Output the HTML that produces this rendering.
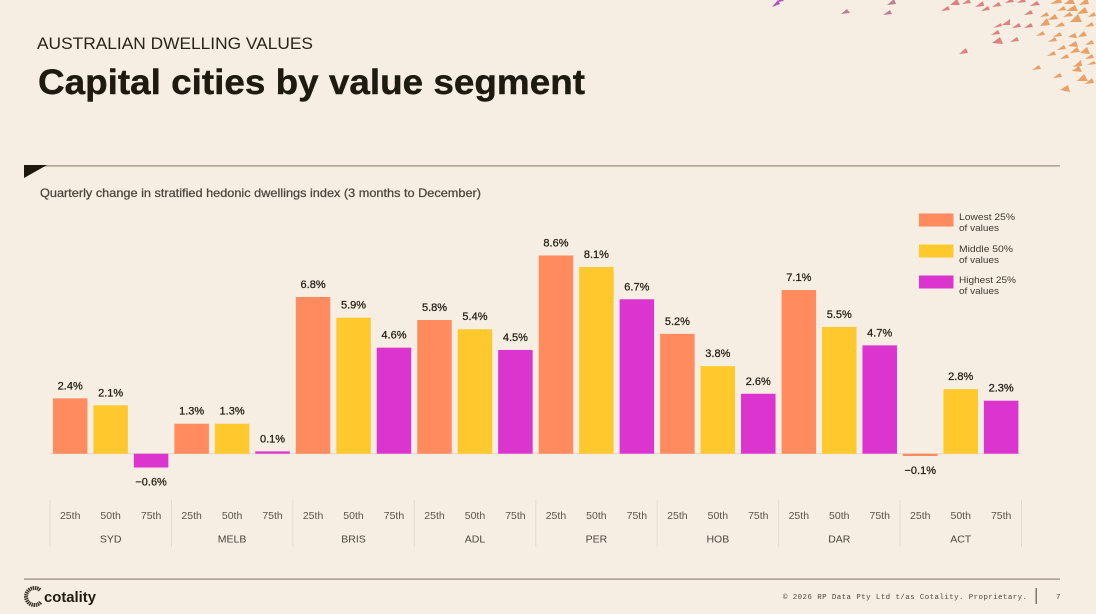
<!DOCTYPE html>
<html lang="en">
<head>
<meta charset="utf-8">
<title>Capital cities by value segment</title>
<style>
html,body{margin:0;padding:0;background:#f6eee3;width:1096px;height:614px;overflow:hidden}
svg{display:block;filter:blur(.3px)}
text{font-family:"Liberation Sans",sans-serif}
</style>
</head>
<body>
<svg id="slide" width="1096" height="614" viewBox="0 0 1096 614" xmlns="http://www.w3.org/2000/svg">
  <rect width="1096" height="614" fill="#f6eee3"/>

  <g>
    <path fill="#a952c0" d="M772 7l8-3-2-4zM777 2l7-1-3-3z"/>
    <path fill="#bd7f96" d="M841 14l9-1-3-4zM887 5l9-1-2-5zM883 15l9-1-2-4z"/>
    <path fill="#dd8080" d="M950 5l10 0-3-6zM962 4l9-1-2-4zM941 11l9-1-2-4zM975 7l9-1-1-5zM981 11l9-1-2-4zM992 7l9-1-2-4zM959 54l9-1-2-5zM1002 25l8 0 0-6zM993 28l9-2-1-3zM991 35l9-1-2-4zM992 43l11 1-3-7zM1010 42l9-1-2-4zM1012 28l9-1-2-4zM1024 28l9-1-2-4zM1024 15l9-1-2-4zM1030 6l10-1-3-4zM1005 3l9-1-2-4zM1017 3l9-1-2-4z"/>
    <path fill="#e8a066" d="M1040 26l10-1-3-7zM1040 17l9-1-2-4zM1048 20l10-1-3-5zM1055 27l10-1-3-4zM1036 36l9-1-2-4zM1053 37l9-1-2-4zM1048 42l9-1-2-4zM1068 37l9 1-2-5zM1078 37l9-1-3-5zM1085 45l9-1-2-4zM1068 46l10 1-2-6zM1057 50l9-1-2-4zM1047 56l9-1-2-4zM1060 59l9-1-2-4zM1070 53l10-1-3-5zM1080 53l10 1-3-7zM1085 59l9-1-2-4zM1032 70l9-1-2-4zM1053 78l9-1-2-4zM1073 67l9-1-1-6zM1072 71l10 1-3-6zM1087 65l9-1-2-3zM1077 81l11 0-4-7zM1085 84l9-1-2-5zM1060 90l10 2-2-7zM1050 4l12-1-2-5zM1064 4l11 0-3-6zM1079 5l10-1-2-6zM1057 11l9-1-2-4zM1066 11l12 0-3-6zM1077 14l11-1-3-6zM1070 22l12 0-4-8zM1085 27l9-1-2-4zM1088 17l8-1-2-4zM1063 17l10-1-3-4z"/>
  </g>

  <text x="37" y="49" font-size="16.5" fill="#2b2419" textLength="276" lengthAdjust="spacingAndGlyphs">AUSTRALIAN DWELLING VALUES</text>
  <text x="38" y="94" font-size="35" font-weight="700" fill="#1f1a10" stroke="#1f1a10" stroke-width=".4" textLength="547" lengthAdjust="spacingAndGlyphs">Capital cities by value segment</text>

  <rect x="24" y="165.2" width="1036" height="1.4" fill="#a59a8b"/>
  <polygon points="24,165 47,165 24,178" fill="#1d170c"/>

  <text x="40" y="197" font-size="12" fill="#4b453c" stroke="#4b453c" stroke-width=".25" textLength="441" lengthAdjust="spacingAndGlyphs">Quarterly change in stratified hedonic dwellings index (3 months to December)</text>

  <g id="chart"></g>

  <g>
    <g>
      <rect x="919" y="213.5" width="34.5" height="13" fill="#ff8b5f"/>
      <text x="959" y="220" font-size="9.6" fill="#3f3931" textLength="56" lengthAdjust="spacingAndGlyphs">Lowest 25%</text>
      <text x="959" y="231" font-size="9.6" fill="#3f3931" textLength="40" lengthAdjust="spacingAndGlyphs">of values</text>
    </g>
    <g>
      <rect x="919" y="244.5" width="34.5" height="13" fill="#ffc92e"/>
      <text x="959" y="252" font-size="9.6" fill="#3f3931" textLength="54" lengthAdjust="spacingAndGlyphs">Middle 50%</text>
      <text x="959" y="263" font-size="9.6" fill="#3f3931" textLength="40" lengthAdjust="spacingAndGlyphs">of values</text>
    </g>
    <g>
      <rect x="919" y="275.5" width="34.5" height="13" fill="#dc35cf"/>
      <text x="959" y="283" font-size="9.6" fill="#3f3931" textLength="57" lengthAdjust="spacingAndGlyphs">Highest 25%</text>
      <text x="959" y="294" font-size="9.6" fill="#3f3931" textLength="40" lengthAdjust="spacingAndGlyphs">of values</text>
    </g>
  </g>

  <rect x="24" y="578.4" width="1036" height="1.5" fill="#a59a8b"/>
  <g>
    <path d="M40 590a8.5 8.5 0 1 0 1 12" fill="none" stroke="#3a3328" stroke-width="4" stroke-dasharray="1.4 .7"/>
    <text x="44" y="602" font-size="14.5" font-weight="700" fill="#211b11" textLength="52" lengthAdjust="spacingAndGlyphs">cotality</text>
  </g>
  <text x="783" y="599" font-size="7.4" fill="#4b453c" style='font-family:"Liberation Mono",monospace' textLength="244">© 2026 RP Data Pty Ltd t/as Cotality. Proprietary.</text>
  <rect x="1035.5" y="588" width="1.5" height="16" fill="#7d766b"/>
  <text x="1056" y="599" font-size="7.5" fill="#4b453c" style='font-family:"Liberation Mono",monospace'>7</text>
</svg>

<script>
const cities = ['SYD', 'MELB', 'BRIS', 'ADL', 'PER', 'HOB', 'DAR', 'ACT'];
const segments = ['25th', '50th', '75th'];
const lowest25 = [2.4, 1.3, 6.8, 5.8, 8.6, 5.2, 7.1, -0.1];
const middle50 = [2.1, 1.3, 5.9, 5.4, 8.1, 3.8, 5.5, 2.8];
const highest25 = [-0.6, 0.1, 4.6, 4.5, 6.7, 2.6, 4.7, 2.3];

const NS = 'http://www.w3.org/2000/svg';
const chart = document.getElementById('chart');
const seriesList = [lowest25, middle50, highest25];
const seriesColors = ['#ff8b5f', '#ffc92e', '#dc35cf'];

const plotLeft = 50;
const plotRight = 1021.5;
const zeroY = 453.7;
const pxPerPercent = 23.05;
const barWidth = 34.5;
const groupWidth = (plotRight - plotLeft) / cities.length;
const slotWidth = 40.45;

function yScale(v) { return zeroY - v * pxPerPercent; }
function xCenter(g, s) { return plotLeft + g * groupWidth + 20.2 + s * slotWidth; }

function make(tag, props, text) {
  const el = document.createElementNS(NS, tag);
  Object.keys(props).forEach(function (k) { el.setAttribute(k, props[k]); });
  if (text !== undefined) el.textContent = text;
  chart.appendChild(el);
  return el;
}

const baseline = make('line', { x1: plotLeft, x2: plotRight, y1: zeroY, y2: zeroY, stroke: '#e2d9cb', 'stroke-width': 1 });



for (let g = 0; g <= cities.length; g++) {
  const sepX = plotLeft + g * groupWidth;
  const sep = make('line', { x1: sepX, x2: sepX, y1: 500, y2: 547, stroke: '#e3dbce', 'stroke-width': 1 });
  
  
}

cities.forEach(function (city, g) {
  seriesList.forEach(function (series, s) {
    const v = series[g];
    const cx = xCenter(g, s);
    const top = Math.min(yScale(v), zeroY);
    const h = Math.max(Math.abs(yScale(v) - zeroY), 1);
    const bar = make('rect', { x: cx - barWidth / 2, y: top, width: barWidth, height: h, fill: seriesColors[s] });
    
    

    const labelY = v >= 0 ? top - 9 : top + h + 18;
    const printed = (v < 0 ? '\u2212' : '') + Math.abs(v).toFixed(1) + '%';
    const label = make('text', { x: cx, y: labelY, 'font-size': 11, fill: '#221c13', stroke: '#221c13', 'stroke-width': 0.25, 'text-anchor': 'middle' }, printed);
    
    

    const tick = make('text', { x: cx, y: 519, 'font-size': 10.5, fill: '#5a5349', 'text-anchor': 'middle' }, segments[s]);
    
    
  });

  const cityLabel = make('text', { x: xCenter(g, 1), y: 542.5, 'font-size': 10.5, fill: '#4b453c', 'text-anchor': 'middle' }, city);
  
  
});
</script>
</body>
</html>
